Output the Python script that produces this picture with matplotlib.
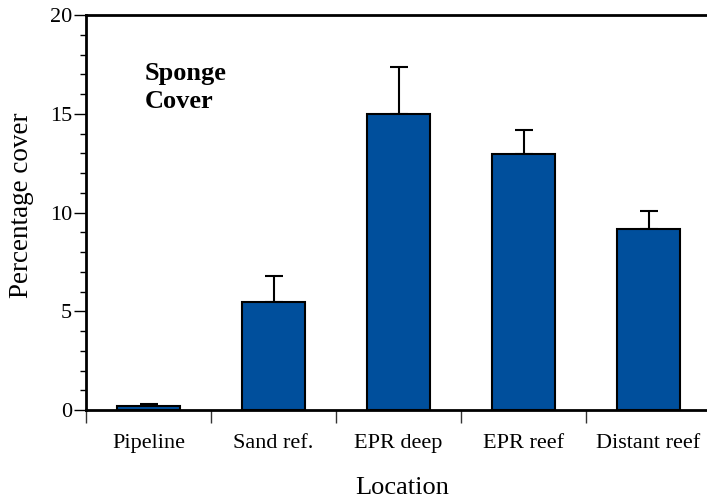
import matplotlib
matplotlib.use("Agg")
import matplotlib.pyplot as plt
import numpy as np

categories = ["Pipeline", "Sand ref.", "EPR deep", "EPR reef", "Distant reef"]
cover = [0.22, 5.45, 15.0, 12.95, 9.15]
cover_err = [0.07, 1.33, 2.37, 1.23, 0.93]
y_ticks = [0, 5, 10, 15, 20]

plt.rcParams['font.family'] = ['Liberation Serif', 'DejaVu Serif']

W, H = 707, 501
fig = plt.figure(figsize=(W / 100, H / 100), dpi=100)
ax = fig.add_axes([86 / W, (H - 410) / H, 625 / W, 395 / H])

x = np.arange(len(categories))
ax.bar(x, cover, width=0.5, color='#004f9c', edgecolor='black', linewidth=1.5, zorder=2)
ax.errorbar(x, cover, yerr=[np.zeros(len(cover)), cover_err], fmt='none',
            ecolor='black', elinewidth=1.5, capsize=6.5, capthick=1.5, zorder=1)

n = len(categories)
ax.set_xlim(-0.5, n - 0.5)
ax.set_ylim(0, 20)
ax.set_xticks(x)
ax.set_xticklabels(categories, fontsize=16)
ax.set_xticks(np.arange(n) - 0.5, minor=True)
ax.tick_params(axis='x', which='major', length=0, pad=17)
ax.tick_params(axis='x', which='minor', direction='out', length=9, width=1, color='#333333')

ax.set_yticks(y_ticks)
ax.set_yticklabels([str(v) for v in y_ticks], fontsize=16)
ax.set_yticks(np.arange(0, 21, 1), minor=True)
ax.tick_params(axis='y', which='major', direction='out', length=9, width=1, pad=1)
ax.tick_params(axis='y', which='minor', direction='out', length=4.5, width=1)

for s in ['left', 'bottom', 'top']:
    ax.spines[s].set_linewidth(2)
ax.spines['right'].set_visible(False)

fig.text(402 / W, 1 - 494 / H, "Location", ha='center', va='baseline', fontsize=19)
fig.text(22 / W, 1 - 205 / H, "Percentage cover", ha='center', va='center',
         rotation=90, fontsize=19.5)
fig.text(145 / W, 1 - 80 / H, "Sponge", ha='left', va='baseline',
         fontsize=19, fontweight='bold')
fig.text(145 / W, 1 - 108 / H, "Cover", ha='left', va='baseline',
         fontsize=19, fontweight='bold')

fig.savefig("out.png", dpi=100)
